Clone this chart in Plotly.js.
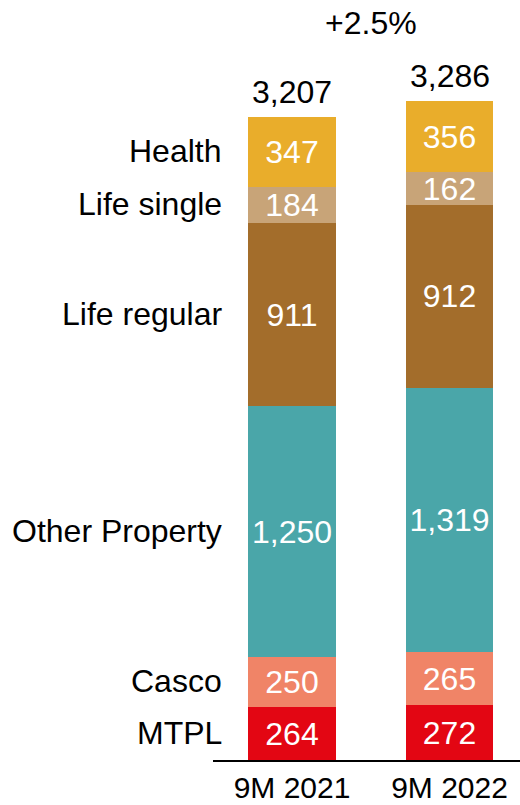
<!DOCTYPE html>
<html>
<head>
<meta charset="utf-8">
<script src="https://cdn.plot.ly/plotly-3.0.1.min.js"></script>
<style>
html,body{margin:0;padding:0;background:#fff;}
#chart{width:520px;height:805px;}
</style>
</head>
<body>
<div id="chart"></div>
<script>
var periods = ['9M 2021', '9M 2022'];
var segments = ['MTPL', 'Casco', 'Other Property', 'Life regular', 'Life single', 'Health'];
var mtpl = [264, 272];
var casco = [250, 265];
var otherProperty = [1250, 1319];
var lifeRegular = [911, 912];
var lifeSingle = [184, 162];
var health = [347, 356];
var totals = [3207, 3286];
var colors = ['#E30613', '#F08467', '#4AA6A9', '#A36D2B', '#C8A478', '#E9AD2B'];

var series = [mtpl, casco, otherProperty, lifeRegular, lifeSingle, health];
var FONT = 'Liberation Sans, Arial, sans-serif';
var FS = 32;

function fmt(v){ return v.toLocaleString('en-US'); }

var traces = series.map(function(vals, i){
  return {
    type: 'bar',
    name: segments[i],
    x: periods,
    y: vals,
    width: 0.555,
    marker: {color: colors[i], line: {width: 0}},
    text: vals.map(fmt),
    textposition: 'inside',
    insidetextanchor: 'middle',
    textangle: 0,
    constraintext: 'none',
    textfont: {family: FONT, size: FS, color: '#ffffff'},
    hoverinfo: 'skip'
  };
});

var annotations = [];
var cum = 0;
series.forEach(function(vals, i){
  var mid = cum + vals[0] / 2;
  cum += vals[0];
  annotations.push({
    x: periods[0], y: mid, xref: 'x', yref: 'y',
    text: segments[i], showarrow: false,
    xanchor: 'right', yanchor: 'middle', xshift: -68, yshift: 1,
    font: {family: FONT, size: FS, color: '#000'}
  });
});
totals.forEach(function(t, i){
  annotations.push({
    x: periods[i], y: t, xref: 'x', yref: 'y',
    text: fmt(t), showarrow: false,
    xanchor: 'center', yanchor: 'bottom', yshift: 5,
    font: {family: FONT, size: FS, color: '#000'}
  });
});
var growth = (totals[1] / totals[0] - 1) * 100;
annotations.push({
  x: 0.5, y: 1, xref: 'x', yref: 'paper',
  text: (growth >= 0 ? '+' : '') + growth.toFixed(1) + '%',
  showarrow: false, xanchor: 'center', yanchor: 'middle', yshift: 37,
  font: {family: FONT, size: FS, color: '#000'}
});

var layout = {
  width: 520, height: 805,
  barmode: 'stack',
  showlegend: false,
  margin: {l: 213, r: 0, t: 60, b: 45},
  paper_bgcolor: '#fff', plot_bgcolor: '#fff',
  xaxis: {
    type: 'category',
    range: [-0.5016, 1.4476],
    showline: true, linecolor: '#000', linewidth: 1.5,
    ticks: '', ticklen: 0,
    showgrid: false, zeroline: false,
    tickfont: {family: FONT, size: 30, color: '#000'},
    fixedrange: true
  },
  yaxis: {
    range: [0, 3490],
    visible: false,
    showgrid: false, zeroline: false,
    fixedrange: true
  },
  annotations: annotations
};

Plotly.newPlot('chart', traces, layout, {displayModeBar: false, staticPlot: true});
</script>
</body>
</html>
